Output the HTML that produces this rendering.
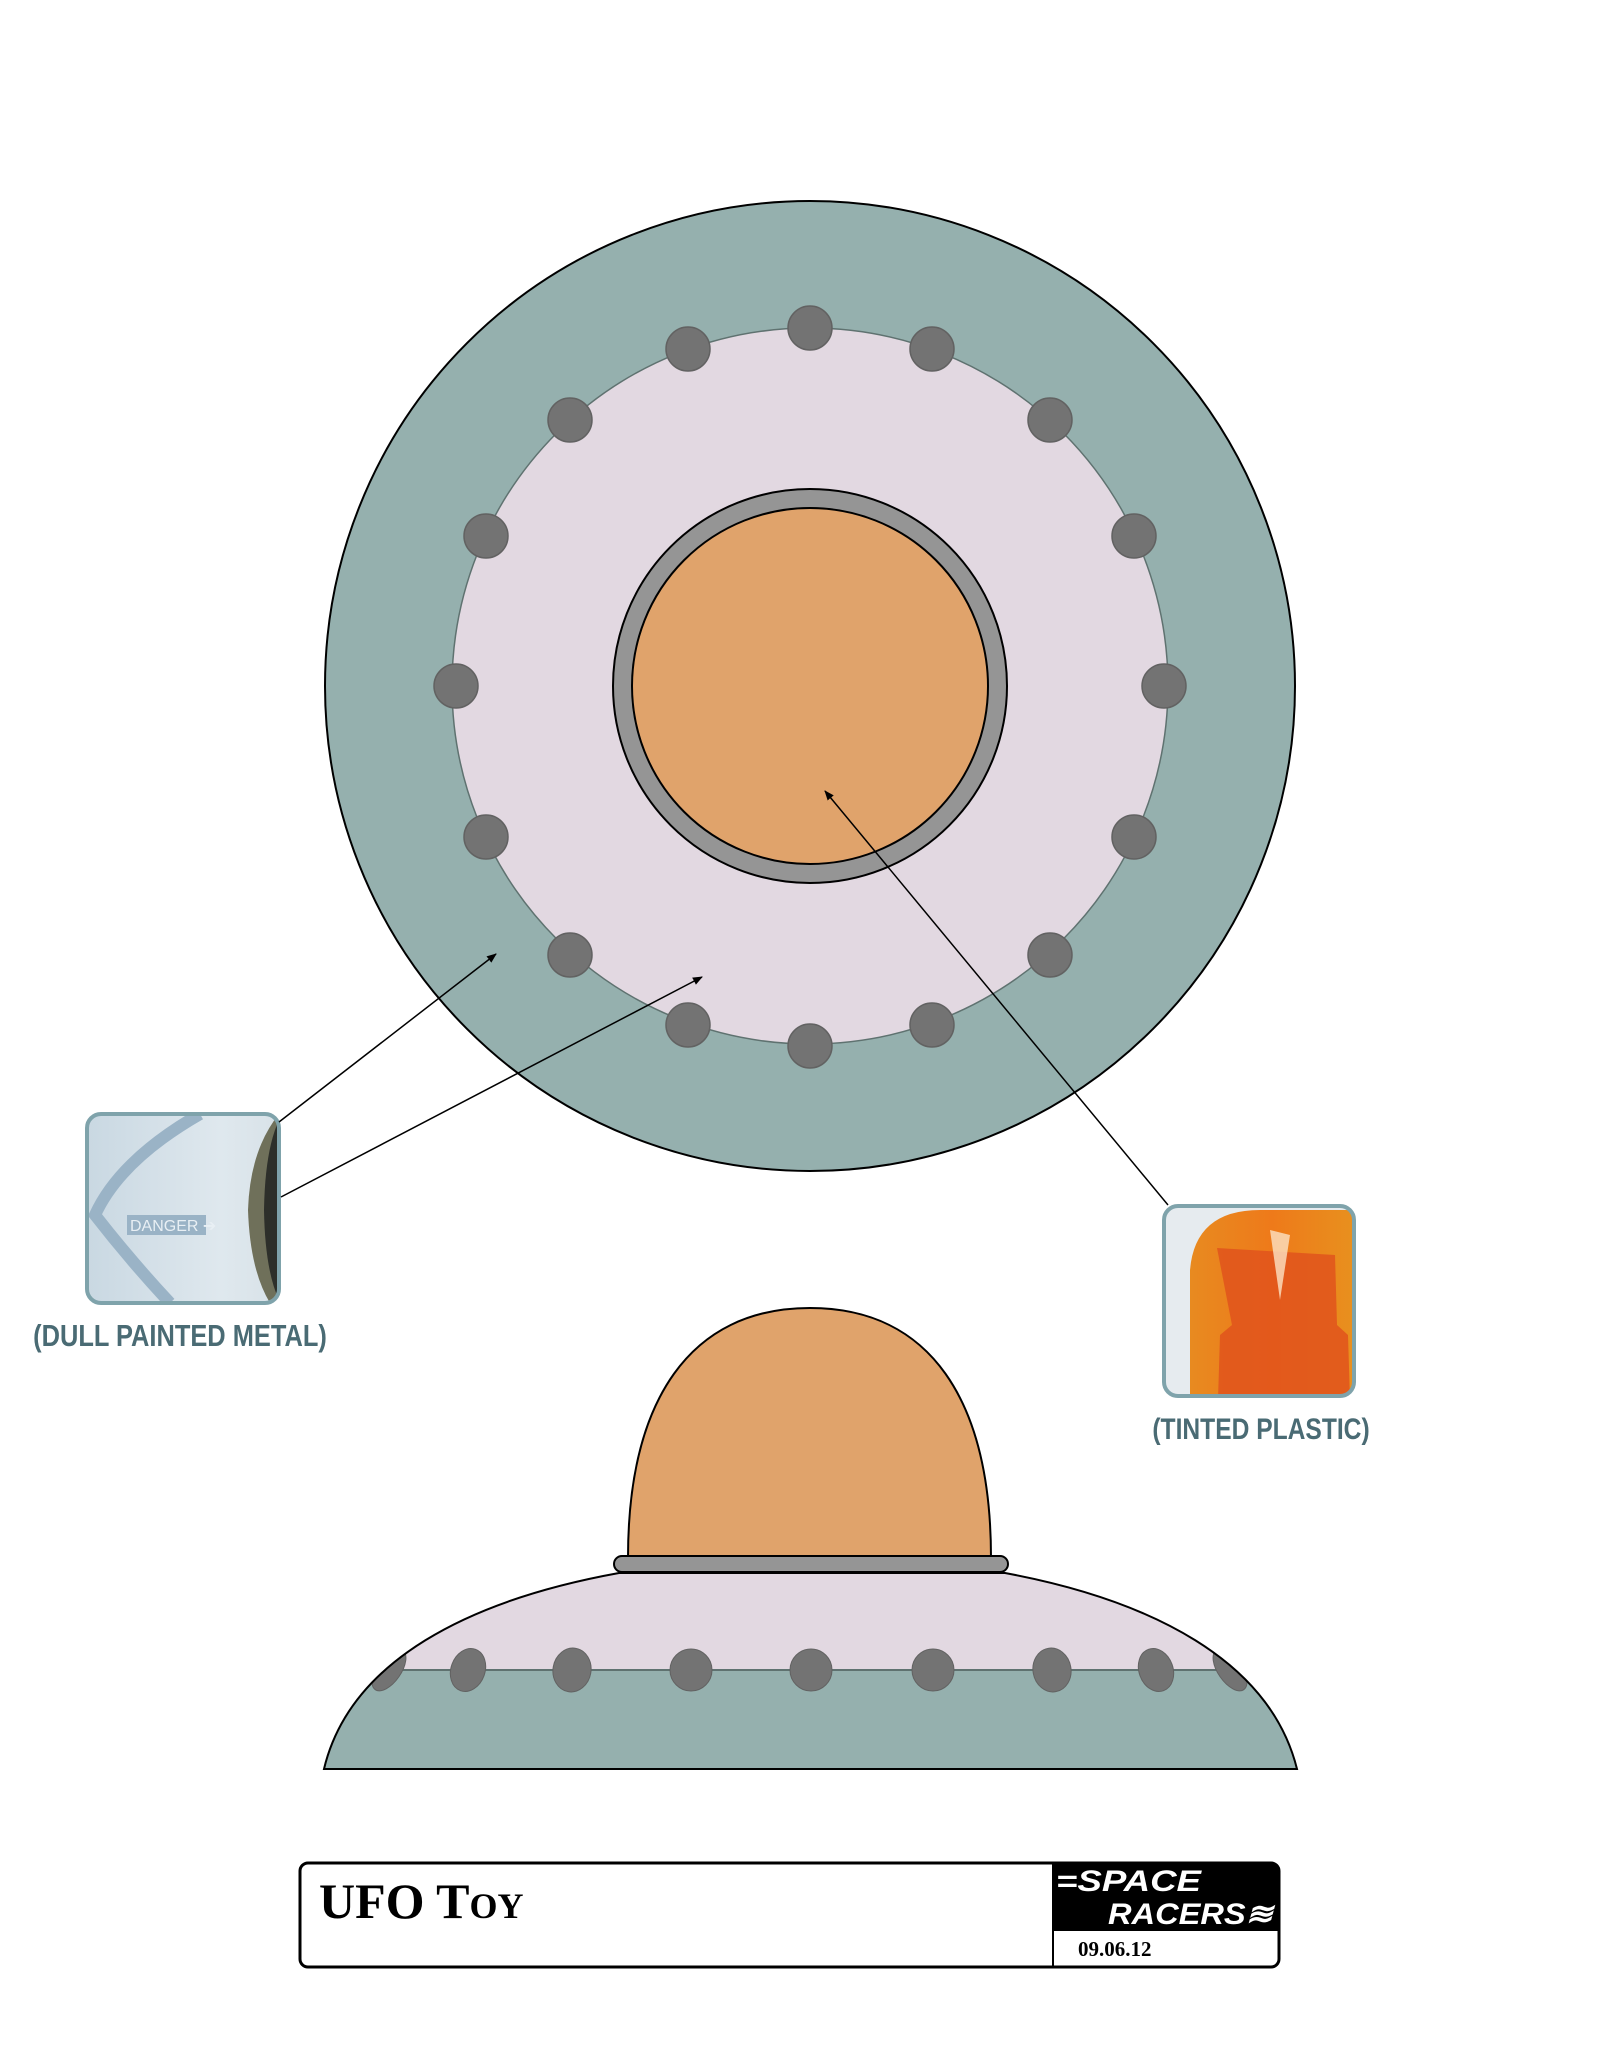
<!DOCTYPE html>
<html><head><meta charset="utf-8"><style>
html,body{margin:0;padding:0;background:#fff;}
body{width:1601px;height:2059px;position:relative;overflow:hidden;}
.lbl{position:absolute;font-family:"Liberation Sans",sans-serif;font-weight:bold;color:#4a6b74;white-space:nowrap;transform:translateX(-50%) scaleX(0.82);}
</style></head><body>
<svg width="1601" height="2059" viewBox="0 0 1601 2059" style="position:absolute;left:0;top:0">
<defs>
<marker id="ar" markerWidth="10" markerHeight="8" refX="9" refY="4" orient="auto" markerUnits="userSpaceOnUse"><path d="M0,0 L10,4 L0,8 z" fill="#000"/></marker>
<clipPath id="sau"><path d="M324 1769 C 350 1660, 470 1600, 619 1573 L 1005 1573 C 1150 1600, 1270 1660, 1297 1769 Z"/></clipPath>
<linearGradient id="metal" x1="0" y1="0" x2="1" y2="0"><stop offset="0" stop-color="#c9d8e2"/><stop offset="0.7" stop-color="#dfe8ee"/><stop offset="1" stop-color="#d8e2e8"/></linearGradient>
<linearGradient id="orng" x1="0" y1="0" x2="1" y2="0"><stop offset="0" stop-color="#e88a20"/><stop offset="0.5" stop-color="#ee7a1a"/><stop offset="1" stop-color="#e8901e"/></linearGradient>
<clipPath id="c1"><rect x="87" y="1114" width="192" height="189" rx="14"/></clipPath>
<clipPath id="c2"><rect x="1164" y="1206" width="190" height="190" rx="14"/></clipPath>
</defs>
<circle cx="810" cy="686" r="485" fill="#95b0ae" stroke="#000" stroke-width="2"/>
<circle cx="810" cy="686" r="358" fill="#e2d8e1" stroke="#5f7270" stroke-width="1.5"/>
<g fill="#737373" stroke="#626262" stroke-width="1.5">
<circle cx="810" cy="328" r="22"/><circle cx="932" cy="349" r="22"/><circle cx="688" cy="349" r="22"/>
<circle cx="1050" cy="420" r="22"/><circle cx="570" cy="420" r="22"/>
<circle cx="1134" cy="536" r="22"/><circle cx="486" cy="536" r="22"/>
<circle cx="1164" cy="686" r="22"/><circle cx="456" cy="686" r="22"/>
<circle cx="1134" cy="837" r="22"/><circle cx="486" cy="837" r="22"/>
<circle cx="1050" cy="955" r="22"/><circle cx="570" cy="955" r="22"/>
<circle cx="932" cy="1025" r="22"/><circle cx="688" cy="1025" r="22"/><circle cx="810" cy="1046" r="22"/>
</g>
<circle cx="810" cy="686" r="197" fill="#959595" stroke="#000" stroke-width="2"/>
<circle cx="810" cy="686" r="178" fill="#e0a36b" stroke="#000" stroke-width="2"/>
<path d="M628 1558 C 628 1400, 690 1308, 810 1308 C 930 1308, 991 1400, 991 1558 Z" fill="#e0a36b" stroke="#000" stroke-width="2"/>
<g clip-path="url(#sau)">
<rect x="300" y="1560" width="1020" height="110" fill="#e2d8e1"/>
<rect x="300" y="1670" width="1020" height="110" fill="#95b0ae"/>
<line x1="300" y1="1670" x2="1320" y2="1670" stroke="#5f7270" stroke-width="2"/>
<g fill="#737373" stroke="#626262" stroke-width="1">
<ellipse cx="389" cy="1670" rx="12" ry="24" transform="rotate(35 389 1670)"/>
<ellipse cx="468" cy="1670" rx="17" ry="22" transform="rotate(20 468 1670)"/>
<ellipse cx="572" cy="1670" rx="19" ry="22" transform="rotate(10 572 1670)"/>
<circle cx="691" cy="1670" r="21"/><circle cx="811" cy="1670" r="21"/><circle cx="933" cy="1670" r="21"/>
<ellipse cx="1052" cy="1670" rx="19" ry="22" transform="rotate(-10 1052 1670)"/>
<ellipse cx="1156" cy="1670" rx="17" ry="22" transform="rotate(-20 1156 1670)"/>
<ellipse cx="1230" cy="1670" rx="12" ry="24" transform="rotate(-35 1230 1670)"/>
</g>
</g>
<path d="M324 1769 C 350 1660, 470 1600, 619 1573 L 1005 1573 C 1150 1600, 1270 1660, 1297 1769 Z" fill="none" stroke="#000" stroke-width="2"/>
<rect x="614" y="1556" width="394" height="16" rx="8" fill="#959595" stroke="#000" stroke-width="2"/>
<g clip-path="url(#c1)">
<rect x="87" y="1114" width="192" height="189" fill="url(#metal)"/>
<path d="M200 1114 Q120 1160 95 1215 Q130 1260 170 1303" fill="none" stroke="#9ab3c6" stroke-width="12"/>
<rect x="127" y="1215" width="79" height="20" fill="#9ab3c6"/>
<text x="130" y="1231" font-family="Liberation Sans,sans-serif" font-size="16" fill="#e8eff4">DANGER ➔</text>
<path d="M279 1114 Q250 1150 248 1210 Q250 1270 270 1303 L279 1303 Z" fill="#6f705a"/>
<path d="M279 1120 Q265 1150 264 1210 Q265 1270 279 1300 Z" fill="#2d2f2a"/>
</g>
<rect x="87" y="1114" width="192" height="189" rx="14" fill="none" stroke="#7fa3ab" stroke-width="4"/>
<g clip-path="url(#c2)">
<rect x="1164" y="1206" width="190" height="190" fill="#e6ebef"/>
<path d="M1190 1400 L1190 1270 Q1195 1210 1260 1210 L1354 1210 L1354 1400 Z" fill="url(#orng)"/>
<path d="M1217 1248 L1335 1255 L1337 1325 L1348 1335 L1350 1400 L1218 1400 L1220 1335 L1232 1325 Z" fill="#e0541c" opacity="0.85"/>
<path d="M1270 1230 L1280 1300 L1290 1235 Z" fill="#fbe2c4" opacity="0.8"/>
</g>
<rect x="1164" y="1206" width="190" height="190" rx="14" fill="none" stroke="#7fa3ab" stroke-width="4"/>
<line x1="279" y1="1122" x2="496" y2="954" stroke="#000" stroke-width="1.5" marker-end="url(#ar)"/>
<line x1="281" y1="1197" x2="702" y2="977" stroke="#000" stroke-width="1.5" marker-end="url(#ar)"/>
<line x1="1168" y1="1205" x2="825" y2="791" stroke="#000" stroke-width="1.5" marker-end="url(#ar)"/>
<rect x="300" y="1863" width="979" height="104" rx="8" fill="#fff" stroke="#000" stroke-width="3"/>
<path d="M1053 1863 L1271 1863 Q1279 1863 1279 1871 L1279 1931 L1053 1931 Z" fill="#000"/>
<line x1="1053" y1="1863" x2="1053" y2="1967" stroke="#000" stroke-width="2"/>
<text x="1056" y="1891" font-family="Liberation Sans,sans-serif" font-style="italic" font-weight="bold" font-size="30" fill="#fff" textLength="145" lengthAdjust="spacingAndGlyphs">=SPACE</text>
<text x="1108" y="1924" font-family="Liberation Sans,sans-serif" font-style="italic" font-weight="bold" font-size="30" fill="#fff" textLength="165" lengthAdjust="spacingAndGlyphs">RACERS≋</text>
<text x="1078" y="1956" font-family="Liberation Serif,serif" font-weight="bold" font-size="21" fill="#000">09.06.12</text>
<text x="319" y="1918" font-family="Liberation Serif,serif" font-weight="bold" font-size="50" fill="#000">UFO T<tspan font-size="36">OY</tspan></text>
</svg>
<div class="lbl" style="left:180px;top:1318px;font-size:31px">(DULL PAINTED METAL)</div>
<div class="lbl" style="left:1261px;top:1413px;font-size:30px">(TINTED PLASTIC)</div>
</body></html>
